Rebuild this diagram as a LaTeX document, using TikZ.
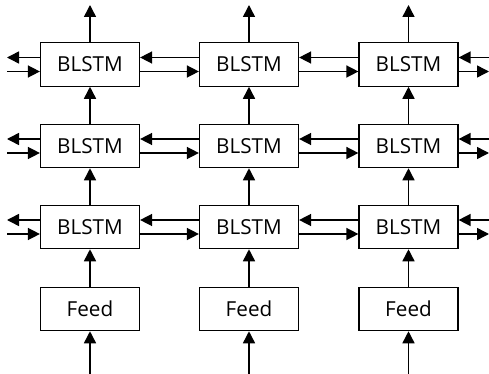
\documentclass[tikz,border=0pt]{standalone}
\usepackage{fontspec}
\setmainfont{Open Sans}
\usetikzlibrary{arrows.meta}
\begin{document}
\begin{tikzpicture}[x=0.75pt,y=-0.75pt,
  box/.style={draw, line width=0.9pt, minimum width=74.25pt, minimum height=32.5pt, inner sep=0pt, font=\fontsize{15.5}{17}\selectfont},
  arr/.style={line width=1.1pt, -{Triangle[length=9pt,width=9pt]}}]
\useasboundingbox (0,0) rectangle (489,374);
\foreach \c/\x in {1/90,2/249,3/408.5}{
  \node[box] (b1\c) at (\x,64.5) {BLSTM};
  \node[box] (b2\c) at (\x,146) {BLSTM};
  \node[box] (b3\c) at (\x,227) {BLSTM};
  \node[box] (f\c) at (\x,309) {Feed};
  \coordinate (top\c) at (\x,5);
  \coordinate (bot\c) at (\x,374);
  \draw[arr] (b1\c.north) -- (top\c);
  \draw[arr] (b2\c.north) -- (b1\c.south);
  \draw[arr] (b3\c.north) -- (b2\c.south);
  \draw[arr] (f\c.north) -- (b3\c.south);
  \draw[arr] (bot\c) -- (f\c.south);
}
\foreach \r in {1,2,3}{
  \coordinate (l\r) at (7,0);
  \coordinate (r\r) at (489,0);
  \draw[arr] ([yshift=5.25pt]b\r1.west) -- ([yshift=5.25pt]b\r1.west -| l\r);
  \draw[arr] ([yshift=-5.25pt]b\r1.west -| l\r) -- ([yshift=-5.25pt]b\r1.west);
  \draw[arr] ([yshift=5.25pt]b\r2.west) -- ([yshift=5.25pt]b\r1.east);
  \draw[arr] ([yshift=-5.25pt]b\r1.east) -- ([yshift=-5.25pt]b\r2.west);
  \draw[arr] ([yshift=5.25pt]b\r3.west) -- ([yshift=5.25pt]b\r2.east);
  \draw[arr] ([yshift=-5.25pt]b\r2.east) -- ([yshift=-5.25pt]b\r3.west);
  \draw[arr] ([yshift=5.25pt]b\r3.east -| r\r) -- ([yshift=5.25pt]b\r3.east);
  \draw[arr] ([yshift=-5.25pt]b\r3.east) -- ([yshift=-5.25pt]b\r3.east -| r\r);
}
\end{tikzpicture}
\end{document}
